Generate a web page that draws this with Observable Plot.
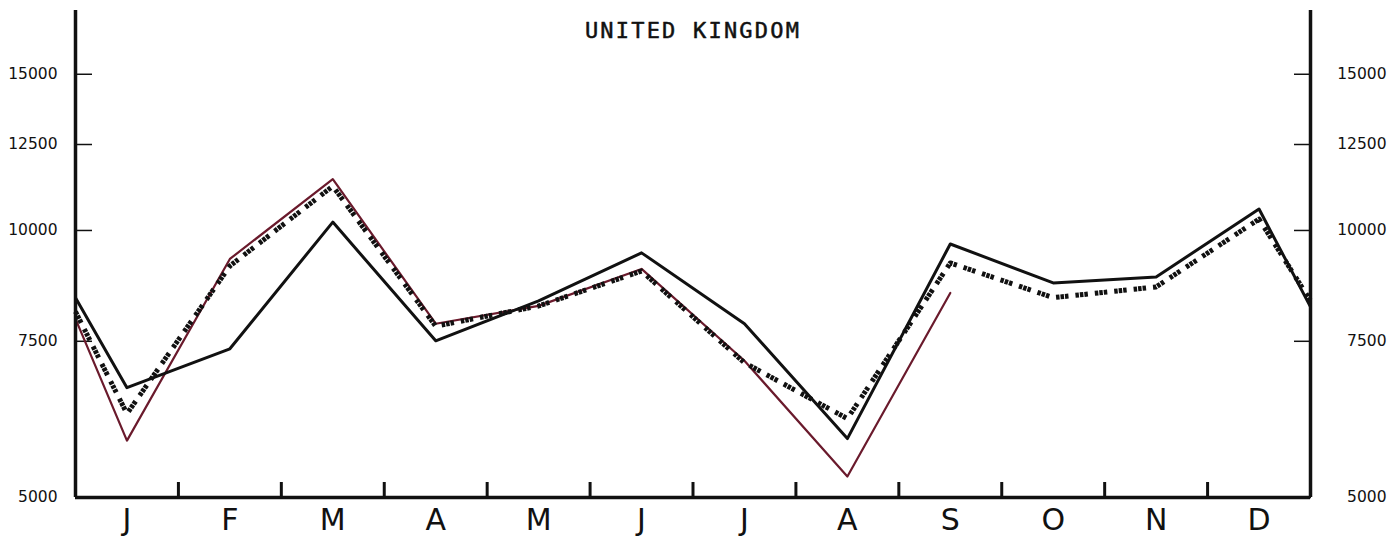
<!DOCTYPE html>
<html><head><meta charset="utf-8">
<script src="https://cdn.jsdelivr.net/npm/d3@7"></script>
<script src="https://cdn.jsdelivr.net/npm/@observablehq/plot@0.6"></script>
<style>body{margin:0;background:#fff}</style>
</head><body><div id="chart"></div>
<script>
const title = "UNITED KINGDOM";
const months = ["J","F","M","A","M","J","J","A","S","O","N","D"];
const yTicks = [5000, 7500, 10000, 12500, 15000];
const monthTicks = [1,2,3,4,5,6,7,8,9,10,11];

// solid black series (starts at left edge, ends at right edge)
const solidStart = 8400;
const solidValues = [6650, 7355, 10220, 7510, 8330, 9435, 7850, 5826, 9655, 8727, 8863, 10573];
const solidEnd = 8200;

// dark red series (Jan - Sep)
const redStart = 7950;
const redValues = [5796, 9287, 11427, 7850, 8222, 9050, 7130, 5280, 8503];

// dashed series
const dashStart = 8100;
const dashValues = [6215, 9120, 11220, 7800, 8220, 9000, 7095, 6136, 9192, 8400, 8637, 10300];
const dashEnd = 8330;

function series(start, values, end) {
  const pts = [];
  if (start != null) pts.push({x: 0, y: start});
  values.forEach((v, i) => pts.push({x: i + 0.5, y: v}));
  if (end != null) pts.push({x: 12, y: end});
  return pts;
}
const solid = series(solidStart, solidValues, solidEnd);
const red = series(redStart, redValues, null);
const dashed = series(dashStart, dashValues, dashEnd);

const plot = Plot.plot({
  width: 1397, height: 540,
  marginLeft: 75, marginRight: 87, marginTop: 10, marginBottom: 43,
  style: {fontFamily: "DejaVu Sans", background: "#fff", color: "#111"},
  x: {domain: [0, 12]},
  y: {type: "log", domain: [5000, 17700]},
  marks: [
    Plot.axisY({anchor: "left", ticks: yTicks, tickSize: -17, tickPadding: 35, tickFormat: d => String(d), fontSize: 15.5, strokeWidth: 1.5, label: null}),
    Plot.axisY({anchor: "right", ticks: yTicks, tickSize: -17, tickPadding: 93, textAnchor: "end", tickFormat: d => String(d), fontSize: 15.5, strokeWidth: 1.5, label: null}),
    Plot.axisX({ticks: monthTicks, tickSize: -15, tickFormat: () => "", strokeWidth: 3, label: null}),
    Plot.axisX({ticks: months.map((m, i) => i + 0.5), tickSize: 0, tickPadding: 11, tickFormat: d => months[Math.floor(d)], fontSize: 30, stroke: "#111", strokeWidth: 0.6, label: null}),
    Plot.line(red, {x: "x", y: "y", stroke: "#6a1a2c", strokeWidth: 2.2}),
    Plot.line(solid, {x: "x", y: "y", stroke: "#111", strokeWidth: 3}),
    Plot.line(dashed, {x: "x", y: "y", stroke: "#111", strokeWidth: 5, strokeDasharray: "3.5,1,3.5,1,3.5,7", strokeLinecap: "butt"}),
    Plot.ruleX([0, 12], {stroke: "#111", strokeWidth: 3.5}),
    Plot.ruleY([5000], {stroke: "#111", strokeWidth: 3.5}),
    Plot.text([title], {frameAnchor: "top", lineAnchor: "middle", dy: 20, fontFamily: "DejaVu Sans Mono", fontSize: 22, fill: "#111", stroke: "#111", strokeWidth: 0.5})
  ]
});
d3.select(plot).selectAll("text").filter(function() { return this.textContent === title; })
  .style("letter-spacing", "2.2px");
document.getElementById("chart").appendChild(plot);
</script>
</body></html>
